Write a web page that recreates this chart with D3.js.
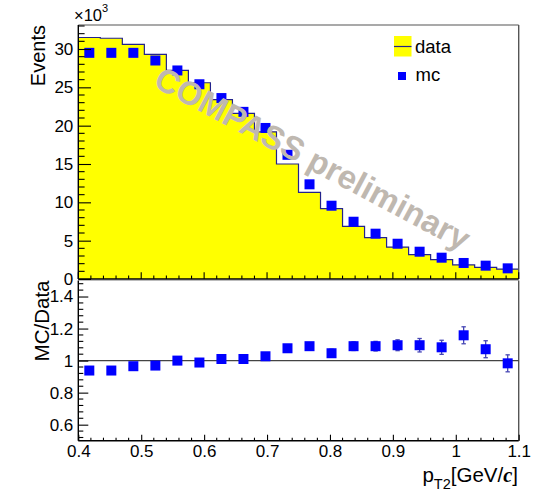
<!DOCTYPE html>
<html><head><meta charset="utf-8">
<script src="https://cdn.jsdelivr.net/npm/d3@7"></script>
<style>
body{margin:0;background:#fff;}
svg{display:block;font-family:"Liberation Sans",Arial,Helvetica,sans-serif;}
</style></head>
<body><svg id="c" width="535" height="493"></svg>
<script>
// ---- data ----
const binCenters = [0.4175,0.4525,0.4875,0.5225,0.5575,0.5925,0.6275,0.6625,0.6975,0.7325,
                    0.7675,0.8025,0.8375,0.8725,0.9075,0.9425,0.9775,1.0125,1.0475,1.0825];
const binWidth = 0.035;
const dataEvents = [31.5,31.4,30.6,29.3,27.2,25.6,23.4,21.6,19.2,15.0,
                    11.3,9.17,6.87,5.39,4.17,3.17,2.52,1.83,1.52,1.30]; // x10^3
const mcEvents = [29.5,29.5,29.5,28.5,27.2,25.4,23.6,21.8,19.7,16.2,
                  12.35,9.56,7.47,5.91,4.6,3.56,2.78,2.09,1.74,1.39]; // x10^3
const ratio = [0.938,0.938,0.965,0.969,1.0,0.988,1.01,1.01,1.027,1.077,
               1.09,1.046,1.09,1.09,1.096,1.096,1.083,1.158,1.071,0.983];
const ratioErr = [0.012,0.012,0.013,0.013,0.014,0.015,0.016,0.017,0.018,0.02,
                  0.022,0.025,0.027,0.03,0.034,0.042,0.044,0.053,0.053,0.053];
const xTicks = [0.4,0.5,0.6,0.7,0.8,0.9,1.0,1.1];
const xTickLabels = ["0.4","0.5","0.6","0.7","0.8","0.9","1","1.1"];
const yTopTicks = [0,5,10,15,20,25,30];
const yBotTicks = [0.6,0.8,1.0,1.2,1.4];
const yBotTickLabels = ["0.6","0.8","1","1.2","1.4"];

// ---- layout ----
const L = 78.3, R = 518.7;
const topT = 25, topB = 279;
const botT = 280.5, botB = 440.7;
const FS = 17; // tick label font size

const svg = d3.select("#c");
const x = d3.scaleLinear().domain([0.4,1.1]).range([L,R]);
const yT = d3.scaleLinear().domain([0,33.13]).range([topB,topT]);
const yB = d3.scaleLinear().domain([0.5,1.5]).range([botB,botT]);

// ---- top panel ----
const gT = svg.append("g");
const stepPts = [];
binCenters.forEach((c,i)=>{
  stepPts.push([c-binWidth/2, dataEvents[i]]);
  stepPts.push([c+binWidth/2, dataEvents[i]]);
});
const area = d3.area().x(d=>x(d[0])).y0(yT(0)).y1(d=>yT(d[1]));
gT.append("path").datum(stepPts).attr("d",area).attr("fill","#ffff00");
const line = d3.line().x(d=>x(d[0])).y(d=>yT(d[1]));
gT.append("path").datum(stepPts).attr("d",line).attr("fill","none")
  .attr("stroke","#23238c").attr("stroke-width",1.2);

const ms = 10;
gT.selectAll("rect.mc").data(binCenters).enter().append("rect")
  .attr("x",(d)=>x(d)-ms/2).attr("y",(d,i)=>yT(mcEvents[i])-ms/2)
  .attr("width",ms).attr("height",ms).attr("fill","#0000ff");

gT.append("line").attr("x1",L).attr("x2",R).attr("y1",topT).attr("y2",topT).attr("stroke","#555").attr("stroke-width",1.2);
gT.append("line").attr("x1",R).attr("x2",R).attr("y1",topT).attr("y2",topB).attr("stroke","#555").attr("stroke-width",1.4);

const yAxT = d3.axisLeft(yT).tickValues(yTopTicks).tickSize(-12.7).tickPadding(5).tickFormat(d3.format("d"));
const gyT = gT.append("g").attr("transform",`translate(${L},0)`).call(yAxT);
gyT.select(".domain").remove();
gyT.selectAll(".tick line").attr("stroke","#000").attr("stroke-width",1.1);
gyT.selectAll(".tick text").attr("font-size",FS).attr("fill","#000").attr("font-family","Liberation Sans");
const yTminor = d3.range(0,34,1).filter(v=>v%5!==0);
gT.selectAll("line.ymin").data(yTminor).enter().append("line")
  .attr("x1",L).attr("x2",L+6.3).attr("y1",d=>yT(d)).attr("y2",d=>yT(d)).attr("stroke","#000").attr("stroke-width",1.1);
gT.selectAll("line.xmajT").data(xTicks).enter().append("line")
  .attr("x1",d=>x(d)).attr("x2",d=>x(d)).attr("y1",topB).attr("y2",topB-6.7).attr("stroke","#000").attr("stroke-width",1.1);
const xMinor = d3.range(0.42,1.1,0.02).filter(v=>Math.abs(Math.round(v*10)-v*10)>1e-6);
gT.selectAll("line.xminT").data(xMinor).enter().append("line")
  .attr("x1",d=>x(d)).attr("x2",d=>x(d)).attr("y1",topB).attr("y2",topB-3.4).attr("stroke","#000").attr("stroke-width",1.1);
gT.append("line").attr("x1",L).attr("x2",L).attr("y1",topT).attr("y2",topB).attr("stroke","#000").attr("stroke-width",1.4);
gT.append("line").attr("x1",L).attr("x2",R).attr("y1",topB).attr("y2",topB).attr("stroke","#000").attr("stroke-width",1.4);

const ex = gT.append("text").attr("x",74).attr("y",20.7).attr("font-size",16.5).attr("fill","#000");
ex.append("tspan").text("\u00d710");
ex.append("tspan").attr("dy",-9).attr("font-size",11).text("3");

gT.append("text").attr("transform",`translate(45,${topT}) rotate(-90)`)
  .attr("text-anchor","end").attr("font-size",20).attr("fill","#000").text("Events");

// legend
gT.append("rect").attr("x",394).attr("y",36).attr("width",17.5).attr("height",20.5).attr("fill","#ffff00");
gT.append("line").attr("x1",394).attr("x2",411.5).attr("y1",46.5).attr("y2",46.5).attr("stroke","#23238c").attr("stroke-width",1.2);
gT.append("text").attr("x",415).attr("y",52.5).attr("font-size",18.5).attr("fill","#000").text("data");
gT.append("rect").attr("x",398).attr("y",72).attr("width",8).attr("height",8).attr("fill","#0000ff");
gT.append("text").attr("x",415.5).attr("y",80.5).attr("font-size",18.5).attr("fill","#000").text("mc");

// ---- bottom panel ----
const gB = svg.append("g");
gB.append("line").attr("x1",L).attr("x2",R).attr("y1",botT).attr("y2",botT).attr("stroke","#bbb").attr("stroke-width",1.2);
gB.append("line").attr("x1",R).attr("x2",R).attr("y1",botT).attr("y2",botB).attr("stroke","#555").attr("stroke-width",1.4);
gB.append("line").attr("x1",L).attr("x2",R).attr("y1",yB(1)).attr("y2",yB(1)).attr("stroke","#444").attr("stroke-width",1.3);

const eg = gB.selectAll("g.err").data(binCenters).enter().append("g").attr("stroke","#4646b4").attr("stroke-width",1.3);
eg.append("line").attr("x1",d=>x(d)).attr("x2",d=>x(d))
  .attr("y1",(d,i)=>yB(ratio[i]-ratioErr[i])).attr("y2",(d,i)=>yB(ratio[i]+ratioErr[i]));
eg.append("line").attr("x1",d=>x(d)-2.2).attr("x2",d=>x(d)+2.2)
  .attr("y1",(d,i)=>yB(ratio[i]-ratioErr[i])).attr("y2",(d,i)=>yB(ratio[i]-ratioErr[i]));
eg.append("line").attr("x1",d=>x(d)-2.2).attr("x2",d=>x(d)+2.2)
  .attr("y1",(d,i)=>yB(ratio[i]+ratioErr[i])).attr("y2",(d,i)=>yB(ratio[i]+ratioErr[i]));
gB.selectAll("rect.r").data(binCenters).enter().append("rect")
  .attr("x",d=>x(d)-ms/2).attr("y",(d,i)=>yB(ratio[i])-ms/2)
  .attr("width",ms).attr("height",ms).attr("fill","#0000ff");

const yAxB = d3.axisLeft(yB).tickValues(yBotTicks).tickSize(-10).tickPadding(5).tickFormat((d,i)=>yBotTickLabels[i]);
const gyB = gB.append("g").attr("transform",`translate(${L},0)`).call(yAxB);
gyB.select(".domain").remove();
gyB.selectAll(".tick line").attr("stroke","#000").attr("stroke-width",1.1);
gyB.selectAll(".tick text").attr("font-size",FS).attr("fill","#000").attr("font-family","Liberation Sans");
const yBminor = d3.range(0.52,1.5,0.04).filter(v=>Math.abs(Math.round(v*5)-v*5)>1e-6);
gB.selectAll("line.ybmin").data(yBminor).enter().append("line")
  .attr("x1",L).attr("x2",L+5).attr("y1",d=>yB(d)).attr("y2",d=>yB(d)).attr("stroke","#000").attr("stroke-width",1.1);

const xAxB = d3.axisBottom(x).tickValues(xTicks).tickSize(-6).tickPadding(4).tickFormat((d,i)=>xTickLabels[i]);
const gxB = gB.append("g").attr("transform",`translate(0,${botB})`).call(xAxB);
gxB.select(".domain").remove();
gxB.selectAll(".tick line").attr("stroke","#000").attr("stroke-width",1.1);
gxB.selectAll(".tick text").attr("font-size",FS).attr("fill","#000").attr("font-family","Liberation Sans");
gB.selectAll("line.xminB").data(xMinor).enter().append("line")
  .attr("x1",d=>x(d)).attr("x2",d=>x(d)).attr("y1",botB).attr("y2",botB-3).attr("stroke","#000").attr("stroke-width",1.1);
gB.append("line").attr("x1",L).attr("x2",L).attr("y1",botT).attr("y2",botB).attr("stroke","#000").attr("stroke-width",1.4);
gB.append("line").attr("x1",L).attr("x2",R).attr("y1",botB).attr("y2",botB).attr("stroke","#000").attr("stroke-width",1.4);

gB.append("text").attr("transform",`translate(48.5,${botT}) rotate(-90)`)
  .attr("text-anchor","end").attr("font-size",20.5).attr("fill","#000").text("MC/Data");

const xt = gB.append("text").attr("x",518).attr("y",481.7).attr("text-anchor","end").attr("font-size",20.5).attr("fill","#000");
xt.append("tspan").text("p");
xt.append("tspan").attr("dy",7.5).attr("font-size",14.5).text("T2");
xt.append("tspan").attr("dy",-7.5).text("[GeV/");
xt.append("tspan").attr("font-family","Liberation Serif").attr("font-style","italic").attr("font-weight","bold").text("c");
xt.append("tspan").text("]");

// watermark (drawn over the plot)
svg.append("text").attr("transform","translate(152,86) rotate(28)")
  .attr("font-size",33).attr("font-weight","bold").attr("fill","#bfb8b0").text("COMPASS preliminary");
</script></body></html>
